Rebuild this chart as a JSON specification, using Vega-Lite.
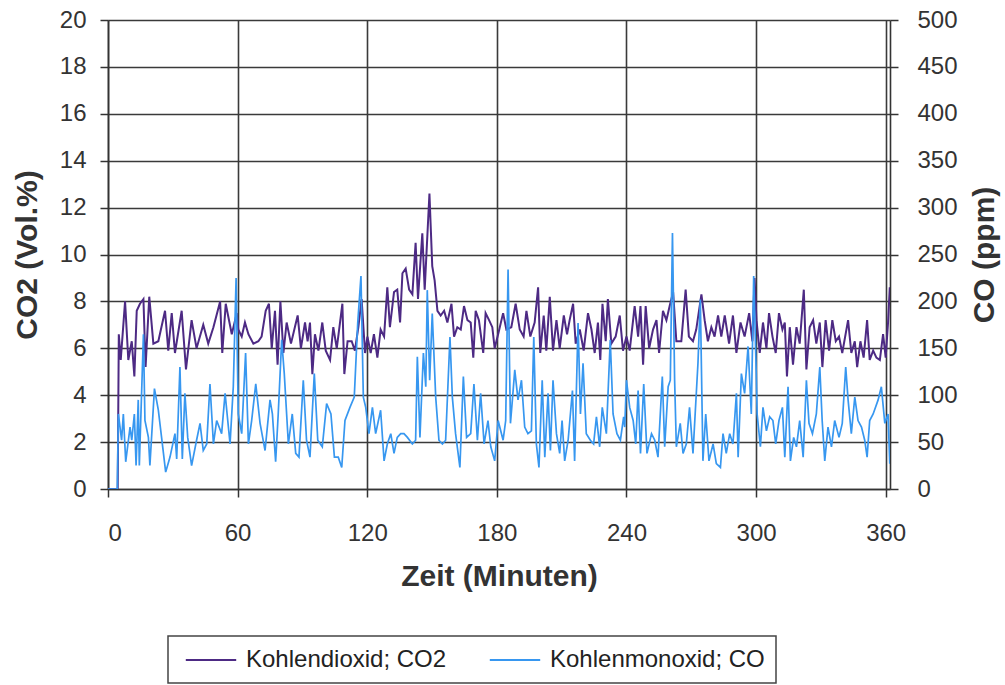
{
  "$schema": "https://vega.github.io/schema/vega-lite/v6.json",
  "width": 782,
  "height": 469,
  "autosize": {"type": "none"},
  "padding": {"left": 108, "top": 20, "right": 115, "bottom": 196},
  "background": "#ffffff",
  "config": {
    "view": {"stroke": null},
    "axis": {
      "labelFont": "Liberation Sans",
      "labelFontSize": 24,
      "labelColor": "#333333",
      "titleFont": "Liberation Sans",
      "titleFontSize": 30,
      "titleFontWeight": "bold",
      "titleColor": "#333333",
      "domainColor": "#333333",
      "domainWidth": 1.6,
      "tickColor": "#333333",
      "tickWidth": 1.5,
      "tickSize": 8,
      "gridColor": "#3a3a3a",
      "gridWidth": 1.6
    },
    "legend": {
      "orient": "none",
      "legendX": 60,
      "legendY": 616,
      "direction": "horizontal",
      "strokeColor": "#444444",
      "strokeWidth": 1.5,
      "padding": 11,
      "labelFont": "Liberation Sans",
      "labelFontSize": 24,
      "labelColor": "#222222",
      "labelLimit": 400,
      "symbolType": "M-2.1,0L2.1,0",
      "symbolSize": 576,
      "symbolStrokeWidth": 2,
      "symbolOffset": 19,
      "columnPadding": 36,
      "labelOffset": 22
    }
  },
  "datasets": {
    "co2": [
      {"t": 0, "v": 0}, {"t": 4.5, "v": 0}, {"t": 5.0, "v": 6.6}, {"t": 5.9, "v": 5.5}, {"t": 7.9, "v": 8.0},
      {"t": 9.4, "v": 5.5}, {"t": 11.0, "v": 6.3}, {"t": 12.2, "v": 4.8}, {"t": 13.3, "v": 7.6}, {"t": 14.8, "v": 7.9},
      {"t": 16.4, "v": 8.1}, {"t": 17.4, "v": 5.2}, {"t": 19.1, "v": 8.2}, {"t": 21.0, "v": 6.2}, {"t": 23.3, "v": 6.3},
      {"t": 26.4, "v": 7.6}, {"t": 27.9, "v": 5.9}, {"t": 29.5, "v": 7.5}, {"t": 31.0, "v": 5.8}, {"t": 34.1, "v": 7.6},
      {"t": 36.1, "v": 5.1}, {"t": 38.7, "v": 7.2}, {"t": 41.0, "v": 6.0}, {"t": 44.1, "v": 7.0}, {"t": 46.4, "v": 6.2},
      {"t": 48.8, "v": 6.9}, {"t": 51.9, "v": 8.0}, {"t": 52.9, "v": 5.8}, {"t": 54.5, "v": 7.9}, {"t": 57.3, "v": 6.6},
      {"t": 59.6, "v": 7.5}, {"t": 60.3, "v": 6.8}, {"t": 61.9, "v": 6.5}, {"t": 63.4, "v": 7.1}, {"t": 65.0, "v": 6.6},
      {"t": 67.3, "v": 6.2}, {"t": 69.6, "v": 6.3}, {"t": 71.1, "v": 6.5}, {"t": 73.0, "v": 7.6}, {"t": 74.5, "v": 7.9},
      {"t": 75.8, "v": 6.0}, {"t": 77.3, "v": 7.6}, {"t": 78.5, "v": 5.3}, {"t": 79.8, "v": 8.0}, {"t": 81.2, "v": 5.8},
      {"t": 82.7, "v": 7.1}, {"t": 84.7, "v": 6.2}, {"t": 86.5, "v": 6.9}, {"t": 87.8, "v": 7.4}, {"t": 89.3, "v": 6.0},
      {"t": 91.2, "v": 7.1}, {"t": 92.4, "v": 6.3}, {"t": 93.5, "v": 7.1}, {"t": 94.6, "v": 4.9}, {"t": 95.8, "v": 6.6},
      {"t": 97.4, "v": 5.9}, {"t": 99.2, "v": 7.1}, {"t": 100.8, "v": 5.9}, {"t": 102.8, "v": 5.5}, {"t": 104.3, "v": 6.9},
      {"t": 105.9, "v": 6.0}, {"t": 107.4, "v": 7.1}, {"t": 108.5, "v": 7.9}, {"t": 109.4, "v": 4.9}, {"t": 110.9, "v": 6.3},
      {"t": 112.8, "v": 6.3}, {"t": 114.3, "v": 5.9}, {"t": 115.9, "v": 6.9}, {"t": 117.4, "v": 8.1}, {"t": 119.0, "v": 5.8},
      {"t": 120.1, "v": 6.5}, {"t": 121.6, "v": 5.8}, {"t": 123.1, "v": 6.6}, {"t": 124.7, "v": 5.6}, {"t": 126.2, "v": 6.8},
      {"t": 127.8, "v": 6.5}, {"t": 129.3, "v": 8.6}, {"t": 130.5, "v": 6.9}, {"t": 132.4, "v": 8.4}, {"t": 133.9, "v": 8.5},
      {"t": 135.2, "v": 7.1}, {"t": 136.3, "v": 9.2}, {"t": 137.8, "v": 9.4}, {"t": 139.4, "v": 8.5}, {"t": 140.9, "v": 8.3},
      {"t": 142.4, "v": 10.5}, {"t": 143.5, "v": 8.1}, {"t": 145.5, "v": 10.9}, {"t": 146.6, "v": 8.5}, {"t": 148.8, "v": 12.6},
      {"t": 150.1, "v": 9.5}, {"t": 151.2, "v": 8.9}, {"t": 152.5, "v": 7.6}, {"t": 154.0, "v": 7.4}, {"t": 155.6, "v": 7.6},
      {"t": 157.1, "v": 7.1}, {"t": 159.0, "v": 7.9}, {"t": 160.2, "v": 6.5}, {"t": 161.7, "v": 6.9}, {"t": 163.3, "v": 6.8},
      {"t": 164.8, "v": 7.8}, {"t": 166.4, "v": 7.2}, {"t": 167.9, "v": 7.1}, {"t": 169.1, "v": 5.6}, {"t": 170.2, "v": 7.6},
      {"t": 171.7, "v": 7.2}, {"t": 173.7, "v": 5.8}, {"t": 174.8, "v": 7.5}, {"t": 176.4, "v": 7.2}, {"t": 177.9, "v": 6.9},
      {"t": 179.0, "v": 6.0}, {"t": 180.6, "v": 6.6}, {"t": 182.9, "v": 7.5}, {"t": 184.4, "v": 6.8}, {"t": 186.7, "v": 6.9},
      {"t": 188.7, "v": 7.9}, {"t": 190.6, "v": 6.8}, {"t": 192.4, "v": 6.5}, {"t": 193.7, "v": 7.6}, {"t": 195.5, "v": 6.5},
      {"t": 197.5, "v": 7.1}, {"t": 199.1, "v": 8.6}, {"t": 200.1, "v": 5.8}, {"t": 201.7, "v": 7.4}, {"t": 202.9, "v": 5.9},
      {"t": 204.5, "v": 8.2}, {"t": 206.0, "v": 5.9}, {"t": 207.6, "v": 7.2}, {"t": 209.1, "v": 6.0}, {"t": 211.0, "v": 7.4},
      {"t": 212.5, "v": 6.6}, {"t": 213.7, "v": 7.2}, {"t": 215.3, "v": 7.9}, {"t": 216.5, "v": 6.2}, {"t": 218.4, "v": 6.8},
      {"t": 220.2, "v": 5.9}, {"t": 222.2, "v": 7.5}, {"t": 223.8, "v": 6.8}, {"t": 225.3, "v": 5.8}, {"t": 226.8, "v": 7.1},
      {"t": 227.9, "v": 5.5}, {"t": 228.9, "v": 7.9}, {"t": 230.4, "v": 6.3}, {"t": 231.4, "v": 8.1}, {"t": 233.0, "v": 6.2},
      {"t": 235.0, "v": 6.5}, {"t": 236.9, "v": 7.4}, {"t": 238.4, "v": 5.9}, {"t": 240.0, "v": 6.5}, {"t": 241.5, "v": 5.9},
      {"t": 243.8, "v": 7.8}, {"t": 245.4, "v": 6.5}, {"t": 246.5, "v": 7.8}, {"t": 247.7, "v": 5.3}, {"t": 248.9, "v": 7.8},
      {"t": 250.5, "v": 6.0}, {"t": 252.3, "v": 6.8}, {"t": 253.9, "v": 7.2}, {"t": 255.1, "v": 5.8}, {"t": 256.9, "v": 7.6},
      {"t": 258.5, "v": 7.2}, {"t": 260.0, "v": 7.8}, {"t": 261.6, "v": 8.4}, {"t": 263.1, "v": 6.3}, {"t": 265.4, "v": 6.3},
      {"t": 267.4, "v": 8.5}, {"t": 268.9, "v": 6.5}, {"t": 270.8, "v": 6.3}, {"t": 272.3, "v": 6.8}, {"t": 274.7, "v": 8.3},
      {"t": 276.2, "v": 7.2}, {"t": 277.7, "v": 6.3}, {"t": 279.3, "v": 6.9}, {"t": 280.8, "v": 6.5}, {"t": 282.4, "v": 7.4},
      {"t": 283.9, "v": 6.5}, {"t": 285.5, "v": 7.4}, {"t": 287.5, "v": 6.2}, {"t": 289.3, "v": 7.4}, {"t": 290.9, "v": 5.8},
      {"t": 292.8, "v": 7.1}, {"t": 294.7, "v": 6.5}, {"t": 296.8, "v": 7.5}, {"t": 298.3, "v": 6.3}, {"t": 299.3, "v": 9.0},
      {"t": 300.2, "v": 7.2}, {"t": 301.7, "v": 5.8}, {"t": 303.2, "v": 7.1}, {"t": 304.8, "v": 6.0}, {"t": 306.0, "v": 7.5},
      {"t": 307.6, "v": 6.5}, {"t": 309.1, "v": 5.8}, {"t": 310.6, "v": 7.5}, {"t": 312.2, "v": 6.8}, {"t": 313.3, "v": 7.1},
      {"t": 314.3, "v": 4.8}, {"t": 315.6, "v": 6.9}, {"t": 317.1, "v": 5.3}, {"t": 318.7, "v": 6.9}, {"t": 320.2, "v": 6.2},
      {"t": 322.1, "v": 8.5}, {"t": 323.3, "v": 5.1}, {"t": 324.8, "v": 6.9}, {"t": 326.4, "v": 7.2}, {"t": 327.9, "v": 6.2},
      {"t": 329.5, "v": 7.1}, {"t": 330.7, "v": 5.2}, {"t": 332.2, "v": 7.2}, {"t": 333.8, "v": 5.9}, {"t": 335.3, "v": 7.2},
      {"t": 336.9, "v": 6.3}, {"t": 338.4, "v": 6.5}, {"t": 339.9, "v": 5.8}, {"t": 342.6, "v": 7.2}, {"t": 344.1, "v": 5.8},
      {"t": 345.7, "v": 6.3}, {"t": 346.8, "v": 5.2}, {"t": 348.3, "v": 6.3}, {"t": 349.8, "v": 5.6}, {"t": 351.4, "v": 7.2},
      {"t": 352.6, "v": 5.5}, {"t": 354.2, "v": 5.9}, {"t": 355.7, "v": 5.6}, {"t": 357.3, "v": 5.5}, {"t": 358.8, "v": 6.6},
      {"t": 360.0, "v": 5.6}, {"t": 361.1, "v": 7.1}, {"t": 361.9, "v": 8.6}
    ],
    "co": [
      {"t": 0, "v": 0}, {"t": 4.3, "v": 0}, {"t": 4.8, "v": 80}, {"t": 6.3, "v": 52}, {"t": 7.1, "v": 80},
      {"t": 8.2, "v": 29}, {"t": 10.2, "v": 66}, {"t": 11.0, "v": 52}, {"t": 12.2, "v": 80}, {"t": 13.0, "v": 25},
      {"t": 14.0, "v": 95}, {"t": 14.5, "v": 25}, {"t": 16.4, "v": 165}, {"t": 17.1, "v": 73}, {"t": 18.7, "v": 55},
      {"t": 19.4, "v": 25}, {"t": 21.5, "v": 107}, {"t": 23.3, "v": 84}, {"t": 24.8, "v": 55}, {"t": 26.7, "v": 18},
      {"t": 28.7, "v": 34}, {"t": 31.0, "v": 59}, {"t": 31.8, "v": 32}, {"t": 33.3, "v": 130}, {"t": 34.4, "v": 32},
      {"t": 35.6, "v": 102}, {"t": 36.9, "v": 55}, {"t": 38.7, "v": 25}, {"t": 41.0, "v": 52}, {"t": 42.6, "v": 70},
      {"t": 44.1, "v": 41}, {"t": 45.7, "v": 48}, {"t": 47.2, "v": 112}, {"t": 48.8, "v": 48}, {"t": 50.3, "v": 73},
      {"t": 52.6, "v": 59}, {"t": 54.2, "v": 102}, {"t": 56.5, "v": 48}, {"t": 58.0, "v": 109}, {"t": 59.3, "v": 225},
      {"t": 60.3, "v": 80}, {"t": 61.9, "v": 59}, {"t": 63.7, "v": 145}, {"t": 65.0, "v": 48}, {"t": 66.5, "v": 73},
      {"t": 68.4, "v": 112}, {"t": 70.4, "v": 70}, {"t": 72.7, "v": 41}, {"t": 75.0, "v": 95}, {"t": 76.1, "v": 80},
      {"t": 77.6, "v": 29}, {"t": 78.8, "v": 80}, {"t": 80.4, "v": 159}, {"t": 81.6, "v": 123}, {"t": 83.5, "v": 48},
      {"t": 85.3, "v": 80}, {"t": 86.9, "v": 38}, {"t": 88.4, "v": 34}, {"t": 90.4, "v": 116}, {"t": 91.9, "v": 52},
      {"t": 93.5, "v": 34}, {"t": 95.5, "v": 123}, {"t": 97.1, "v": 52}, {"t": 99.2, "v": 45}, {"t": 101.2, "v": 91},
      {"t": 103.2, "v": 80}, {"t": 104.8, "v": 34}, {"t": 106.6, "v": 34}, {"t": 108.2, "v": 23}, {"t": 109.7, "v": 73},
      {"t": 112.0, "v": 87}, {"t": 114.0, "v": 98}, {"t": 115.6, "v": 177}, {"t": 117.1, "v": 227}, {"t": 118.2, "v": 98},
      {"t": 119.3, "v": 87}, {"t": 120.8, "v": 59}, {"t": 122.4, "v": 87}, {"t": 123.9, "v": 59}, {"t": 126.2, "v": 84},
      {"t": 127.8, "v": 30}, {"t": 129.3, "v": 48}, {"t": 130.9, "v": 59}, {"t": 132.4, "v": 38}, {"t": 133.9, "v": 55},
      {"t": 135.5, "v": 59}, {"t": 137.0, "v": 59}, {"t": 138.6, "v": 55}, {"t": 140.9, "v": 48}, {"t": 142.4, "v": 52},
      {"t": 143.2, "v": 141}, {"t": 144.4, "v": 55}, {"t": 146.0, "v": 145}, {"t": 147.1, "v": 109}, {"t": 147.8, "v": 212},
      {"t": 148.9, "v": 116}, {"t": 150.1, "v": 187}, {"t": 151.7, "v": 98}, {"t": 153.2, "v": 52}, {"t": 154.8, "v": 48},
      {"t": 156.3, "v": 52}, {"t": 158.3, "v": 162}, {"t": 159.4, "v": 98}, {"t": 160.9, "v": 59}, {"t": 162.9, "v": 23},
      {"t": 164.5, "v": 120}, {"t": 166.0, "v": 55}, {"t": 167.9, "v": 59}, {"t": 169.4, "v": 112}, {"t": 171.0, "v": 52},
      {"t": 172.5, "v": 102}, {"t": 174.1, "v": 48}, {"t": 175.9, "v": 73}, {"t": 177.2, "v": 45}, {"t": 179.0, "v": 30},
      {"t": 180.6, "v": 73}, {"t": 182.9, "v": 52}, {"t": 184.1, "v": 73}, {"t": 185.2, "v": 234}, {"t": 186.3, "v": 70},
      {"t": 187.2, "v": 95}, {"t": 188.3, "v": 127}, {"t": 189.8, "v": 95}, {"t": 191.4, "v": 116}, {"t": 192.9, "v": 66},
      {"t": 194.4, "v": 59}, {"t": 196.0, "v": 62}, {"t": 197.1, "v": 162}, {"t": 198.3, "v": 48}, {"t": 199.5, "v": 23},
      {"t": 201.0, "v": 116}, {"t": 202.2, "v": 34}, {"t": 203.7, "v": 102}, {"t": 204.8, "v": 41}, {"t": 206.0, "v": 116},
      {"t": 207.6, "v": 59}, {"t": 209.1, "v": 38}, {"t": 210.2, "v": 73}, {"t": 211.4, "v": 30}, {"t": 213.0, "v": 52},
      {"t": 215.0, "v": 105}, {"t": 216.0, "v": 30}, {"t": 217.6, "v": 177}, {"t": 218.7, "v": 80}, {"t": 219.9, "v": 134},
      {"t": 221.4, "v": 59}, {"t": 223.3, "v": 52}, {"t": 224.8, "v": 48}, {"t": 226.1, "v": 77}, {"t": 227.6, "v": 45},
      {"t": 228.8, "v": 87}, {"t": 230.7, "v": 59}, {"t": 232.5, "v": 159}, {"t": 233.8, "v": 80}, {"t": 235.6, "v": 59},
      {"t": 237.2, "v": 52}, {"t": 238.7, "v": 77}, {"t": 239.2, "v": 66}, {"t": 240.0, "v": 116}, {"t": 241.5, "v": 87},
      {"t": 243.1, "v": 73}, {"t": 244.3, "v": 48}, {"t": 245.4, "v": 105}, {"t": 246.5, "v": 38}, {"t": 248.0, "v": 112},
      {"t": 249.5, "v": 38}, {"t": 251.6, "v": 59}, {"t": 253.1, "v": 52}, {"t": 254.6, "v": 34}, {"t": 256.6, "v": 120},
      {"t": 257.7, "v": 45}, {"t": 259.3, "v": 109}, {"t": 260.3, "v": 116}, {"t": 261.3, "v": 273}, {"t": 262.3, "v": 116},
      {"t": 263.1, "v": 45}, {"t": 264.9, "v": 70}, {"t": 266.2, "v": 38}, {"t": 267.7, "v": 48}, {"t": 269.2, "v": 87},
      {"t": 270.8, "v": 38}, {"t": 273.1, "v": 134}, {"t": 274.2, "v": 202}, {"t": 275.4, "v": 30}, {"t": 276.7, "v": 80},
      {"t": 278.2, "v": 30}, {"t": 280.1, "v": 48}, {"t": 281.6, "v": 27}, {"t": 283.5, "v": 23}, {"t": 284.7, "v": 59},
      {"t": 286.2, "v": 38}, {"t": 287.8, "v": 59}, {"t": 289.3, "v": 48}, {"t": 290.9, "v": 102}, {"t": 291.7, "v": 34},
      {"t": 293.2, "v": 123}, {"t": 294.7, "v": 102}, {"t": 296.3, "v": 152}, {"t": 297.8, "v": 80}, {"t": 298.9, "v": 227},
      {"t": 300.1, "v": 123}, {"t": 300.5, "v": 80}, {"t": 302.0, "v": 45}, {"t": 303.2, "v": 87}, {"t": 304.8, "v": 62},
      {"t": 306.3, "v": 77}, {"t": 307.8, "v": 73}, {"t": 309.1, "v": 48}, {"t": 310.6, "v": 73}, {"t": 312.2, "v": 87},
      {"t": 313.3, "v": 34}, {"t": 314.8, "v": 109}, {"t": 315.9, "v": 30}, {"t": 317.4, "v": 55}, {"t": 318.7, "v": 45},
      {"t": 320.2, "v": 73}, {"t": 321.8, "v": 34}, {"t": 323.3, "v": 116}, {"t": 324.5, "v": 70}, {"t": 326.1, "v": 59},
      {"t": 327.9, "v": 80}, {"t": 329.5, "v": 130}, {"t": 330.6, "v": 73}, {"t": 331.8, "v": 30}, {"t": 333.3, "v": 66},
      {"t": 334.9, "v": 45}, {"t": 336.4, "v": 73}, {"t": 338.4, "v": 55}, {"t": 339.9, "v": 70}, {"t": 341.5, "v": 130},
      {"t": 342.6, "v": 95}, {"t": 344.1, "v": 59}, {"t": 345.7, "v": 98}, {"t": 347.2, "v": 73}, {"t": 348.8, "v": 66},
      {"t": 350.3, "v": 52}, {"t": 351.4, "v": 34}, {"t": 352.6, "v": 73}, {"t": 354.2, "v": 80}, {"t": 356.5, "v": 95},
      {"t": 358.0, "v": 109}, {"t": 359.6, "v": 70}, {"t": 361.1, "v": 80}, {"t": 361.9, "v": 27}
    ]
  },
  "layer": [
    {
      "data": {"name": "co2"},
      "mark": {"type": "line", "strokeWidth": 2, "clip": true},
      "encoding": {
        "x": {
          "field": "t", "type": "quantitative",
          "scale": {"domain": [0, 362], "nice": false, "zero": false},
          "axis": {
            "title": "Zeit (Minuten)",
            "values": [0, 60, 120, 180, 240, 300, 360],
            "labelPadding": 24,
            "titlePadding": 16,
            "grid": true
          }
        },
        "y": {
          "field": "v", "type": "quantitative",
          "scale": {"domain": [0, 20], "nice": false},
          "axis": {
            "title": "CO2 (Vol.%)",
            "orient": "left",
            "values": [0, 2, 4, 6, 8, 10, 12, 14, 16, 18, 20],
            "labelPadding": 14,
            "titlePadding": 17,
            "grid": true
          }
        },
        "color": {
          "datum": "Kohlendioxid; CO2",
          "type": "nominal",
          "scale": {
            "domain": ["Kohlendioxid; CO2", "Kohlenmonoxid; CO"],
            "range": ["#4d2a84", "#3797f0"]
          },
          "legend": {"title": null}
        }
      }
    },
    {
      "data": {"name": "co"},
      "mark": {"type": "line", "strokeWidth": 1.7, "clip": true},
      "encoding": {
        "x": {
          "field": "t", "type": "quantitative",
          "scale": {"domain": [0, 362], "nice": false, "zero": false}
        },
        "y": {
          "field": "v", "type": "quantitative",
          "scale": {"domain": [0, 500], "nice": false},
          "axis": {
            "title": "CO (ppm)",
            "orient": "right",
            "values": [0, 50, 100, 150, 200, 250, 300, 350, 400, 450, 500],
            "labelPadding": 19,
            "titlePadding": 12,
            "titleAngle": 270,
            "titleBaseline": "top",
            "grid": false
          }
        },
        "color": {
          "datum": "Kohlenmonoxid; CO",
          "type": "nominal"
        }
      }
    }
  ],
  "resolve": {"scale": {"y": "independent"}}
}
